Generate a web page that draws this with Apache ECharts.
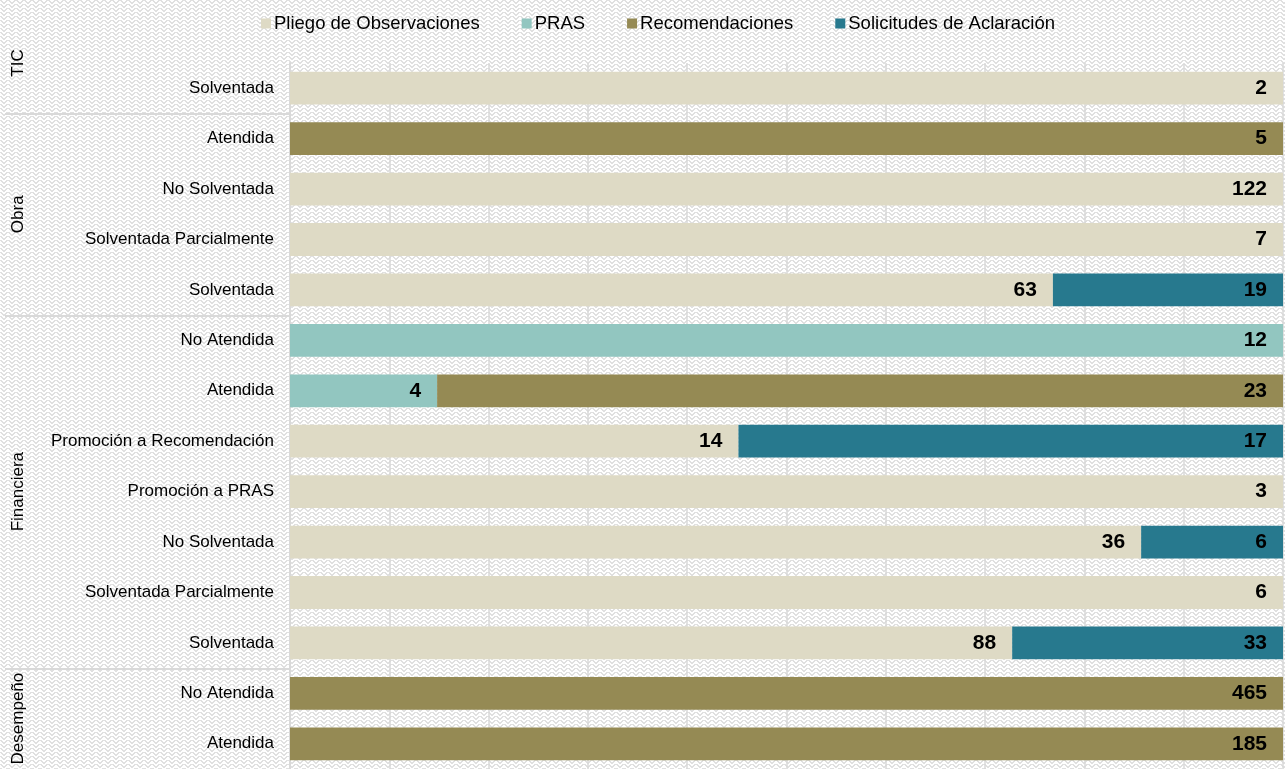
<!DOCTYPE html>
<html>
<head>
<meta charset="utf-8">
<title>Estado de acciones por tipo de auditoría</title>
<script src="https://cdn.jsdelivr.net/npm/echarts@6/dist/echarts.min.js"></script>
<style>
  html, body { margin: 0; padding: 0; background: #fff; }
  #chart { width: 1285px; height: 769px; }
</style>
</head>
<body>
<div id="chart"></div>
<script>
// Rows, top to bottom: audit type (group) and status of the action
const groups = ['TIC', 'Obra', 'Obra', 'Obra', 'Obra',
  'Financiera', 'Financiera', 'Financiera', 'Financiera', 'Financiera', 'Financiera', 'Financiera',
  'Desempeño', 'Desempeño'];
const statuses = ['Solventada', 'Atendida', 'No Solventada', 'Solventada Parcialmente', 'Solventada',
  'No Atendida', 'Atendida', 'Promoción a Recomendación', 'Promoción a PRAS', 'No Solventada',
  'Solventada Parcialmente', 'Solventada',
  'No Atendida', 'Atendida'];

// Counts by action type (null = none)
const seriesNames = ['Pliego de Observaciones', 'PRAS', 'Recomendaciones', 'Solicitudes de Aclaración'];
const pliego = [2, null, 122, 7, 63, null, null, 14, 3, 36, 6, 88, null, null];
const pras   = [null, null, null, null, null, 12, 4, null, null, null, null, null, null, null];
const recom  = [null, 5, null, null, null, null, 23, null, null, null, null, null, 465, 185];
const solic  = [null, null, null, null, 19, null, null, 17, null, 6, null, 33, null, null];

const colors = ['#DEDAC5', '#92C6C0', '#958A54', '#27798E'];
const FONT = '"Liberation Sans", Arial, sans-serif';

// unique keys so repeated status names stay separate rows
const catKeys = statuses.map((s, i) => groups[i] + '|' + s);
const seriesValues = [pliego, pras, recom, solic];
const rowTotals = statuses.map((_, i) =>
  seriesValues.reduce((sum, arr) => sum + (arr[i] || 0), 0));

// zigzag hatch for the page background
function makePattern() {
  const c = document.createElement('canvas');
  c.width = 8; c.height = 8;
  const ctx = c.getContext('2d');
  ctx.fillStyle = '#ffffff';
  ctx.fillRect(0, 0, 8, 8);
  ctx.fillStyle = '#e0e0e0';
  const rows = [0xC3, 0x66, 0x3C, 0x18, 0xC3, 0x66, 0x3C, 0x18];
  rows.forEach((bits, y) => {
    for (let x = 0; x < 8; x++) {
      if (bits & (0x80 >> x)) ctx.fillRect(x, y, 1, 1);
    }
  });
  return c;
}

const chart = echarts.init(document.getElementById('chart'), null, { renderer: 'canvas' });

const series = seriesNames.map((name, k) => ({
  name: name,
  type: 'bar',
  stack: 'total',
  barCategoryGap: '35%',
  itemStyle: { color: colors[k] },
  label: {
    show: true,
    position: 'insideRight',
    distance: 16,
    color: '#000',
    fontFamily: FONT,
    fontWeight: 'bold',
    fontSize: 21,
    formatter: p => seriesValues[k][p.dataIndex]
  },
  data: seriesValues[k].map((v, i) => v == null ? null : v / rowTotals[i] * 100)
}));

const option = {
  animation: false,
  backgroundColor: { image: makePattern(), repeat: 'repeat' },
  color: colors,
  textStyle: { fontFamily: FONT },
  legend: {
    top: 9,
    left: 256,
    icon: 'rect',
    itemWidth: 10,
    itemHeight: 10,
    itemGap: 42,
    textStyle: { fontFamily: FONT, fontSize: 18.5, color: '#000', padding: [0, 0, 0, -2] },
    data: seriesNames
  },
  grid: { left: 290, right: 2, top: 63, bottom: -2 },
  xAxis: {
    type: 'value',
    min: 0,
    max: 100,
    interval: 10,
    axisLabel: { show: false },
    axisTick: { show: false },
    axisLine: { show: false },
    splitLine: { lineStyle: { color: '#d9d9d9', width: 1.5 } }
  },
  yAxis: {
    type: 'category',
    inverse: true,
    data: catKeys,
    axisTick: { show: false },
    axisLine: { lineStyle: { color: '#d9d9d9', width: 2 } },
    axisLabel: {
      margin: 16,
      color: '#000',
      fontFamily: FONT,
      fontSize: 17,
      formatter: v => v.split('|')[1]
    }
  },
  series: series
};

chart.setOption(option);

// group labels and separators placed from the category axis scale
const uniqueGroups = groups.filter((g, i) => groups.indexOf(g) === i);
const rowY = catKeys.map(k => chart.convertToPixel({ yAxisIndex: 0 }, k));
const band = rowY.length > 1 ? rowY[1] - rowY[0] : 50;
const elements = [];
uniqueGroups.forEach((g, gi) => {
  const first = groups.indexOf(g);
  const last = groups.lastIndexOf(g);
  let cy = (rowY[first] + rowY[last]) / 2;
  if (first === last) cy = rowY[first] - band / 2; // single-row group sits at its top edge
  elements.push({
    type: 'text',
    x: 18,
    y: cy,
    rotation: Math.PI / 2,
    style: {
      text: g,
      fill: '#000',
      font: '17px ' + FONT,
      align: 'center',
      verticalAlign: 'middle'
    }
  });
  if (gi < uniqueGroups.length - 1) {
    const yb = Math.round((rowY[last] + rowY[last + 1]) / 2) + 1;
    elements.push({
      type: 'line',
      shape: { x1: 5, y1: yb, x2: 289, y2: yb },
      style: { stroke: '#d9d9d9', lineWidth: 2 }
    });
  }
});
chart.setOption({ graphic: { elements: elements } });
</script>
</body>
</html>
